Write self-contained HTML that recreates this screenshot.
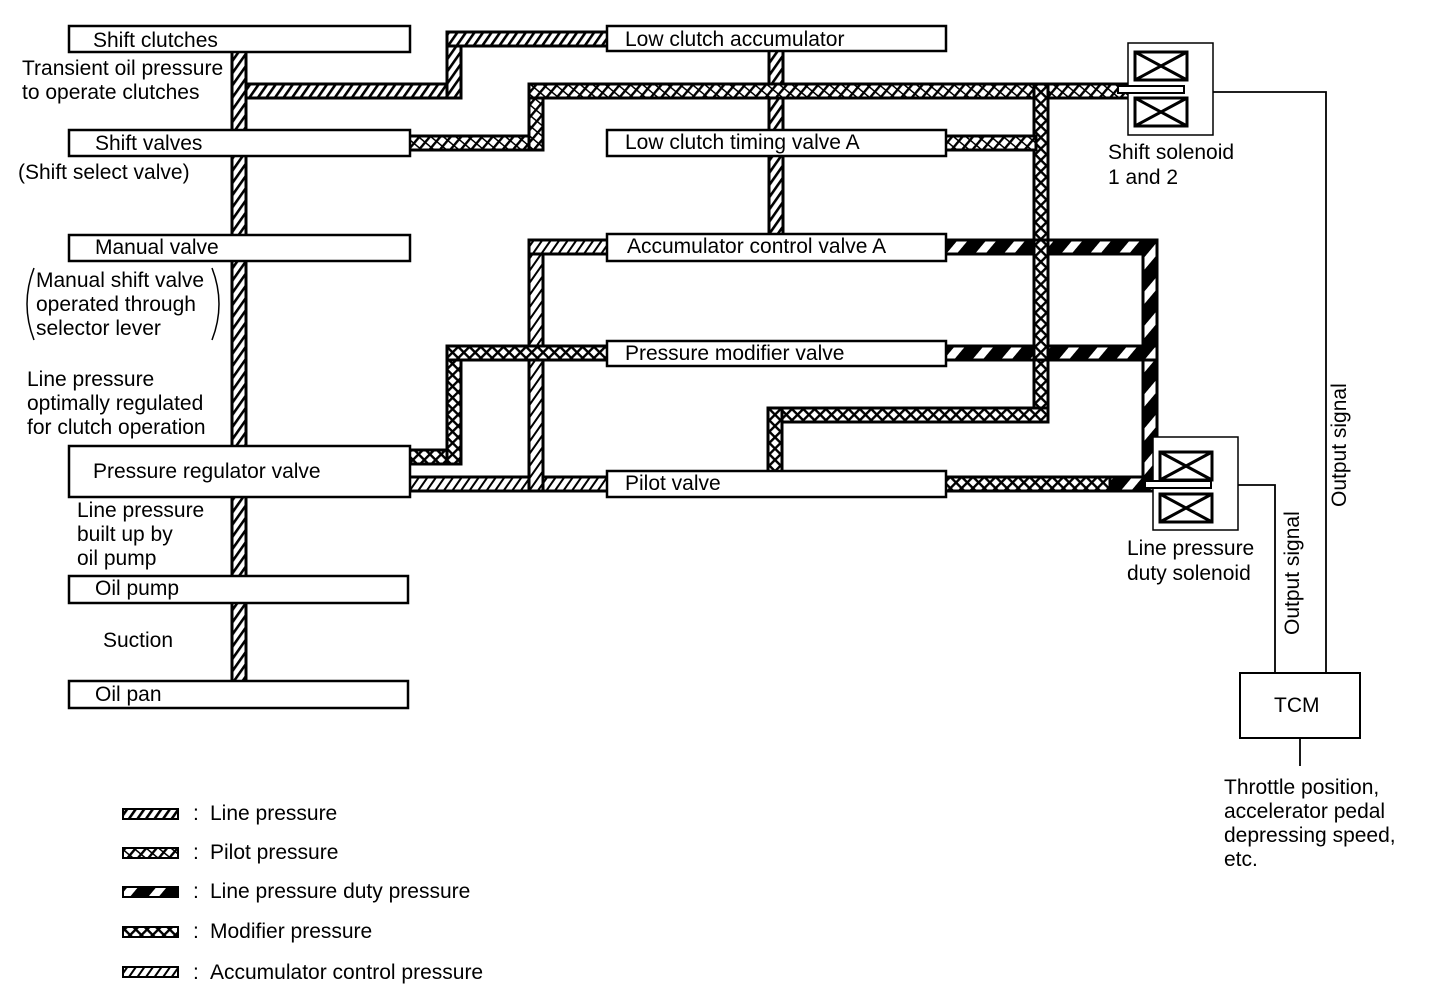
<!DOCTYPE html>
<html><head><meta charset="utf-8"><style>
body{margin:0;background:#fff}
svg{display:block}
text{font-family:"Liberation Sans",Arial,sans-serif;font-size:21px;fill:#000}
</style></head><body>
<svg width="1440" height="992" viewBox="0 0 1440 992" xmlns="http://www.w3.org/2000/svg">
<defs>
<pattern id="ln" width="7" height="7" patternUnits="userSpaceOnUse" patternTransform="rotate(35)"><rect width="7" height="7" fill="#fff"/><rect width="2.6" height="7" fill="#000"/></pattern>
<pattern id="pl" width="8" height="8" patternUnits="userSpaceOnUse" patternTransform="rotate(40)"><rect width="8" height="8" fill="#fff"/><rect width="2.4" height="8" fill="#000"/><rect y="3" width="8" height="1.5" fill="#000"/></pattern>
<pattern id="md" width="8" height="8" patternUnits="userSpaceOnUse" patternTransform="rotate(45)"><rect width="8" height="8" fill="#fff"/><rect width="2.4" height="8" fill="#000"/><rect width="8" height="2.4" fill="#000"/></pattern>
<pattern id="dt" width="22" height="22" patternUnits="userSpaceOnUse" patternTransform="rotate(40)"><rect width="22" height="22" fill="#000"/><rect x="8" width="8" height="22" fill="#fff"/></pattern>
<pattern id="ac" width="7" height="7" patternUnits="userSpaceOnUse" patternTransform="rotate(35)"><rect width="7" height="7" fill="#fff"/><rect width="2" height="7" fill="#000"/></pattern>
</defs>
<g stroke="#000" stroke-width="3">
<rect x="232" y="50" width="14" height="632" fill="url(#ln)"/>
<rect x="246" y="84" width="215" height="14" fill="url(#ln)"/>
<rect x="447" y="32" width="14" height="66" fill="url(#ln)"/>
<rect x="447" y="32" width="162" height="14" fill="url(#ln)"/>
<rect x="769" y="50" width="14" height="186" fill="url(#ln)"/>
<rect x="408" y="136" width="135" height="14" fill="url(#pl)"/>
<rect x="529" y="84" width="14" height="66" fill="url(#pl)"/>
<rect x="529" y="84" width="600" height="14" fill="url(#pl)"/>
<rect x="1034" y="84" width="14" height="338" fill="url(#md)"/>
<rect x="944" y="136" width="92" height="14" fill="url(#pl)"/>
<rect x="768" y="408" width="280" height="14" fill="url(#md)"/>
<rect x="768" y="408" width="14" height="65" fill="url(#md)"/>
<rect x="944" y="477" width="206" height="14" fill="url(#md)"/>
<rect x="1110" y="477" width="40" height="14" fill="url(#dt)"/>
<rect x="408" y="477" width="201" height="14" fill="url(#ac)"/>
<rect x="529" y="240" width="14" height="251" fill="url(#ac)"/>
<rect x="529" y="240" width="80" height="14" fill="url(#ac)"/>
<rect x="408" y="450" width="53" height="14" fill="url(#md)"/>
<rect x="447" y="346" width="14" height="118" fill="url(#md)"/>
<rect x="447" y="346" width="162" height="14" fill="url(#md)"/>
<rect x="944" y="240" width="213" height="14" fill="url(#dt)"/>
<rect x="1143" y="240" width="14" height="251" fill="url(#dt)"/>
<rect x="944" y="346" width="213" height="14" fill="url(#dt)"/>
<rect x="1034" y="240" width="14" height="120" fill="url(#md)"/>
</g>
<g fill="#fff" stroke="#000" stroke-width="2.5">
<rect x="69" y="26" width="341" height="26"/>
<rect x="69" y="130" width="341" height="26"/>
<rect x="69" y="235" width="341" height="26"/>
<rect x="69" y="446" width="341" height="51"/>
<rect x="69" y="576" width="339" height="27"/>
<rect x="69" y="681" width="339" height="27"/>
<rect x="607" y="26" width="339" height="25"/>
<rect x="607" y="130" width="339" height="26"/>
<rect x="607" y="234" width="339" height="27"/>
<rect x="607" y="341" width="339" height="25"/>
<rect x="607" y="471" width="339" height="26"/>
<rect x="1128" y="43" width="85" height="92" stroke-width="1.5"/>
<rect x="1153" y="437" width="85" height="93" stroke-width="1.5"/>
<rect x="1240" y="673" width="120" height="65" stroke-width="2"/>
</g>
<g fill="none" stroke="#000" stroke-width="3">
<rect x="1135" y="52" width="52" height="28"/><path d="M1135 52L1187 80M1187 52L1135 80"/>
<rect x="1135" y="98" width="52" height="28"/><path d="M1135 98L1187 126M1187 98L1135 126"/>
<rect x="1160" y="452" width="52" height="28"/><path d="M1160 452L1212 480M1212 452L1160 480"/>
<rect x="1160" y="494" width="52" height="28"/><path d="M1160 494L1212 522M1212 494L1160 522"/>
</g>
<g stroke="#000" stroke-width="2" fill="#fff">
<rect x="1118" y="86" width="66" height="7"/>
<rect x="1145" y="481" width="66" height="7"/>
</g>
<g fill="none" stroke="#000" stroke-width="1.8">
<path d="M1213 92H1326V673"/>
<path d="M1238 485H1275V673"/>
<path d="M1300 738V766"/>
</g>
<text x="93" y="47">Shift clutches</text>
<text x="22" y="75">Transient oil pressure</text>
<text x="22" y="99">to operate clutches</text>
<text x="95" y="150">Shift valves</text>
<text x="18" y="179">(Shift select valve)</text>
<text x="95" y="254">Manual valve</text>
<text x="36" y="287">Manual shift valve</text>
<text x="36" y="311">operated through</text>
<text x="36" y="335">selector lever</text>
<path d="M34 268Q20 304 34 340M212 268Q226 304 212 340" fill="none" stroke="#000" stroke-width="1.5"/>
<text x="27" y="386">Line pressure</text>
<text x="27" y="410">optimally regulated</text>
<text x="27" y="434">for clutch operation</text>
<text x="93" y="478">Pressure regulator valve</text>
<text x="77" y="517">Line pressure</text>
<text x="77" y="541">built up by</text>
<text x="77" y="565">oil pump</text>
<text x="95" y="595">Oil pump</text>
<text x="103" y="647">Suction</text>
<text x="95" y="701">Oil pan</text>
<text x="625" y="46">Low clutch accumulator</text>
<text x="625" y="149">Low clutch timing valve A</text>
<text x="627" y="253">Accumulator control valve A</text>
<text x="625" y="360">Pressure modifier valve</text>
<text x="625" y="490">Pilot valve</text>
<text x="1108" y="159">Shift solenoid</text>
<text x="1108" y="184">1 and 2</text>
<text x="1127" y="555">Line pressure</text>
<text x="1127" y="580">duty solenoid</text>
<text x="1274" y="712">TCM</text>
<text x="1224" y="794">Throttle position,</text>
<text x="1224" y="818">accelerator pedal</text>
<text x="1224" y="842">depressing speed,</text>
<text x="1224" y="866">etc.</text>
<text transform="translate(1346,507) rotate(-90)">Output signal</text>
<text transform="translate(1299,635) rotate(-90)">Output signal</text>
<g stroke="#000" stroke-width="2">
<rect x="123" y="809" width="55" height="10" fill="url(#ln)"/>
<rect x="123" y="848" width="55" height="10" fill="url(#pl)"/>
<rect x="123" y="887" width="55" height="10" fill="url(#dt)"/>
<rect x="123" y="927" width="55" height="10" fill="url(#md)"/>
<rect x="123" y="967" width="55" height="10" fill="url(#ac)"/>
</g>
<g>
<text x="193" y="820">:</text><text x="210" y="820">Line pressure</text>
<text x="193" y="859">:</text><text x="210" y="859">Pilot pressure</text>
<text x="193" y="898">:</text><text x="210" y="898">Line pressure duty pressure</text>
<text x="193" y="938">:</text><text x="210" y="938">Modifier pressure</text>
<text x="193" y="979">:</text><text x="210" y="979">Accumulator control pressure</text>
</g>
</svg>
</body></html>
